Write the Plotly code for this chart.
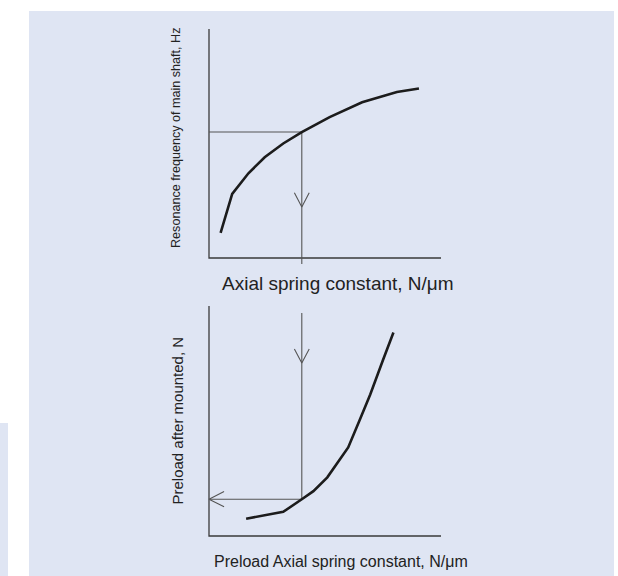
import plotly.graph_objects as go

W, H = 618, 576

# Upper diagram: resonance frequency of the main shaft vs axial spring constant
spring_top = [0.5, 1.0, 1.7, 2.4, 3.2, 4.0, 5.2, 6.6, 8.1, 9.05]
resonance = [1.1, 2.8, 3.7, 4.4, 5.0, 5.5, 6.15, 6.8, 7.25, 7.4]

# Lower diagram: preload after mounting vs axial spring constant
spring_bottom = [1.6, 3.2, 4.0, 4.5, 5.1, 6.0, 6.5, 6.95, 7.5, 7.95]
preload = [0.75, 1.05, 1.6, 1.95, 2.55, 3.85, 5.05, 6.15, 7.65, 8.85]

# Reading path: required frequency -> spring constant -> preload
target_frequency = 5.5
target_spring = 4.0
target_preload = 1.6

top_y_label = "Resonance frequency of main shaft, Hz"
top_x_label = "Axial spring constant, N/\u03bcm"
bottom_y_label = "Preload after mounted, N"
bottom_x_label = "Preload Axial spring constant, N/\u03bcm"

FONT = "Liberation Sans, Arial, Helvetica, sans-serif"
TEXT_COLOR = "#222222"
AXIS_COLOR = "#3a3a3a"
GUIDE_COLOR = "#555555"
CURVE_COLOR = "#1c1c1c"
PANEL = "#dfe5f3"


def px_x(p):
    return p / W


def px_y(p):
    return 1 - p / H


fig = go.Figure()


def add_line(xs, ys, color, width, axis):
    fig.add_trace(go.Scatter(
        x=xs, y=ys, mode="lines", xaxis=axis[0], yaxis=axis[1],
        line=dict(color=color, width=width), hoverinfo="skip", showlegend=False,
    ))


top = ("x", "y")
bot = ("x2", "y2")

# axis frames
add_line([0, 0, 10], [10, 0, 0], AXIS_COLOR, 1.3, top)
add_line([0, 0, 10], [10, 0, 0], AXIS_COLOR, 1.3, bot)

# guide lines, upper diagram
add_line([0, target_spring, target_spring], [target_frequency, target_frequency, -0.26],
         GUIDE_COLOR, 1.1, top)
add_line([target_spring - 0.32, target_spring, target_spring + 0.32], [2.85, 2.23, 2.85],
         GUIDE_COLOR, 1.1, top)

# guide lines, lower diagram
add_line([target_spring, target_spring, 0], [9.7, target_preload, target_preload],
         GUIDE_COLOR, 1.1, bot)
add_line([target_spring - 0.32, target_spring, target_spring + 0.32], [8.13, 7.52, 8.13],
         GUIDE_COLOR, 1.1, bot)
add_line([0.65, 0, 0.65], [target_preload + 0.33, target_preload, target_preload - 0.33],
         GUIDE_COLOR, 1.1, bot)

# curves
add_line(spring_top, resonance, CURVE_COLOR, 2.6, top)
add_line(spring_bottom, preload, CURVE_COLOR, 2.6, bot)

hidden = dict(visible=False, range=[-0.5, 10.5], fixedrange=True)


def label(text, x, y, size, angle=0):
    return dict(text=text, x=px_x(x), y=px_y(y), xref="paper", yref="paper",
                xanchor="center", yanchor="middle", textangle=angle, showarrow=False,
                font=dict(family=FONT, size=size, color=TEXT_COLOR))


fig.update_layout(
    width=W, height=H,
    margin=dict(l=0, r=0, t=0, b=0),
    paper_bgcolor="white",
    plot_bgcolor="rgba(0,0,0,0)",
    xaxis=dict(hidden, domain=[px_x(197.4), px_x(452.6)], anchor="y"),
    yaxis=dict(hidden, domain=[px_y(269.45), px_y(17.55)], anchor="x"),
    xaxis2=dict(hidden, domain=[px_x(197.4), px_x(452.6)], anchor="y2"),
    yaxis2=dict(hidden, domain=[px_y(547.5), px_y(294.5)], anchor="x2"),
    shapes=[
        dict(type="rect", xref="paper", yref="paper", layer="below",
             x0=px_x(29), x1=px_x(614), y0=px_y(576), y1=px_y(11),
             fillcolor=PANEL, line=dict(width=0)),
        dict(type="rect", xref="paper", yref="paper", layer="below",
             x0=0, x1=px_x(8), y0=px_y(576), y1=px_y(423),
             fillcolor=PANEL, line=dict(width=0)),
    ],
    annotations=[
        label(top_y_label, 176, 138, 12.6, -90),
        label(top_x_label, 338, 283, 19),
        label(bottom_y_label, 177, 420.5, 15, -90),
        label(bottom_x_label, 341, 561, 16),
    ],
)

fig.write_html("out.html")
